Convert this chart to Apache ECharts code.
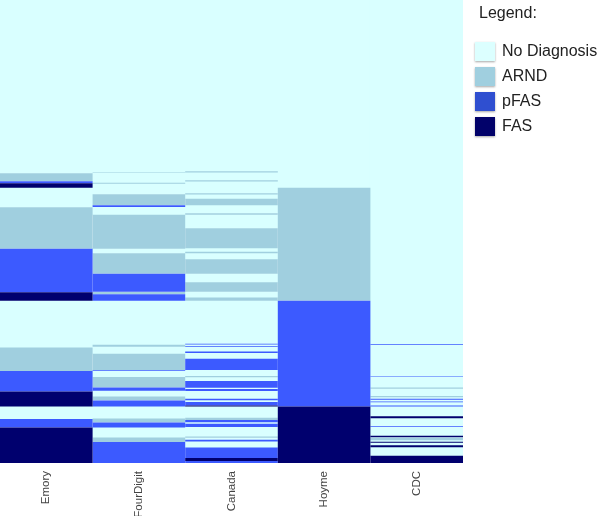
<!DOCTYPE html>
<html>
<head>
<meta charset="utf-8">
<style>html,body{margin:0;padding:0;background:#fff}#c{width:600px;height:516px}</style>
<script src="https://cdn.jsdelivr.net/npm/echarts@6/dist/echarts.min.js"></script>
</head>
<body>
<div id="c"></div>
<script>
const raters = ['Emory', 'FourDigit', 'Canada', 'Hoyme', 'CDC'];
const diagnoses = ['No Diagnosis', 'ARND', 'pFAS', 'FAS'];
const N = 0, A = 1, P = 2, F = 3;
// runs of patients, top to bottom: [first row, last row, diagnosis]
const emoryRuns = [[0,173,N],[173,181,A],[181,183,P],[183,187.5,F],[187.5,207,N],[207,248.5,A],[248.5,292,P],[292,300.5,F],[300.5,347,N],[347,370.5,A],[370.5,391,P],[391,406,F],[406,418.5,N],[418.5,427,P],[427,462.5,F]];
const fourDigitRuns = [[0,172,N],[172,172.6,A],[172.6,182.5,N],[182.5,183.5,A],[183.5,194,N],[194,205,A],[205,206.8,P],[206.8,214.5,N],[214.5,248.5,A],[248.5,253,N],[253,273.5,A],[273.5,291.5,P],[291.5,294,A],[294,300.5,P],[300.5,344.5,N],[344.5,346.3,A],[346.3,353.3,N],[353.3,369.5,A],[369.5,370.3,P],[370.3,376.5,N],[376.5,387,A],[387,390.3,P],[390.3,396,N],[396,400,A],[400,406,P],[406,418,N],[418,422,A],[422,427,P],[427,437,N],[437,441.5,A],[441.5,462.5,P]];
const canadaRuns = [[0,171,N],[171,172.2,A],[172.2,180,N],[180,181.2,A],[181.2,193,N],[193,194.2,A],[194.2,198.5,N],[198.5,205,A],[205,213,N],[213,214.5,A],[214.5,228,N],[228,248,A],[248,251.6,N],[251.6,253,A],[253,259,N],[259,273.5,A],[273.5,282,N],[282,291.5,A],[291.5,297.3,N],[297.3,300.5,A],[300.5,343.5,N],[343.5,344.2,P],[344.2,345.8,N],[345.8,346.6,P],[346.6,351,N],[351,352.6,P],[352.6,358.3,N],[358.3,369.5,P],[369.5,375.7,N],[375.7,376.8,A],[376.8,380.7,N],[380.7,387.3,P],[387.3,388.5,N],[388.5,390.7,P],[390.7,398.3,N],[398.3,399.8,P],[399.8,401.5,N],[401.5,405,P],[405,406,F],[406,417.3,N],[417.3,419.5,A],[419.5,421.8,P],[421.8,423.2,N],[423.2,426.6,P],[426.6,436,N],[436,437.3,A],[437.3,439.3,N],[439.3,441,P],[441,447,N],[447,457.5,P],[457.5,460.5,F],[460.5,462.5,P]];
const hoymeRuns = [[0,187.5,N],[187.5,300.5,A],[300.5,406,P],[406,462.5,F]];
const cdcRuns = [[0,343.6,N],[343.6,344.3,P],[344.3,376,N],[376,376.7,P],[376.7,387,N],[387,388.4,A],[388.4,395.5,N],[395.5,396.7,A],[396.7,398.4,N],[398.4,399.2,P],[399.2,401,N],[401,401.8,P],[401.8,405,N],[405,406,P],[406,415.8,N],[415.8,417.9,F],[417.9,425.8,N],[425.8,426.6,P],[426.6,435.2,N],[435.2,436.7,F],[436.7,437.6,N],[437.6,439.8,A],[439.8,441.2,N],[441.2,442.3,F],[442.3,444.7,N],[444.7,446.8,F],[446.8,455.3,N],[455.3,462.5,F]];
const allRuns = [emoryRuns, fourDigitRuns, canadaRuns, hoymeRuns, cdcRuns];
const rowCount = 462.5;
const cellColors = ['#d9ffff', '#a0cfdf', '#3c5aff', '#00006e'];
const legendColors = ['#dcffff', '#a0cfdf', '#2f4fd0', '#02026a'];

function renderRun(params, api) {
  const x = api.value(0), y0 = api.value(1), y1 = api.value(2);
  const isBase = params.seriesIndex === N;
  const grow = isBase ? 0.6 : 0;
  const a = api.coord([x, y0]), b = api.coord([x, y1]);
  const w = api.size([1, 0])[0];
  return {
    type: 'rect',
    shape: { x: a[0] - w / 2 - grow, y: a[1] - grow, width: w + 2 * grow, height: b[1] - a[1] + 2 * grow },
    style: { fill: cellColors[params.seriesIndex] }
  };
}

const series = diagnoses.map((name, d) => {
  const data = [];
  allRuns.forEach((runs, r) => runs.forEach(run => { if (run[2] === d) data.push([r, run[0], run[1]]); }));
  return {
    name, type: 'custom', renderItem: renderRun, data, z: 2 + d, silent: true, animation: false,
    clip: true, itemStyle: { color: legendColors[d] },
    encode: { x: 0, y: [1, 2] }
  };
});

const chart = echarts.init(document.getElementById('c'), null, { renderer: 'canvas' });
chart.setOption({
  animation: false,
  backgroundColor: '#fff',
  title: { text: 'Legend:', left: 479, top: 6, padding: 0, textStyle: { fontFamily: 'Liberation Sans', fontSize: 16, fontWeight: 'normal', color: '#222' } },
  legend: {
    orient: 'vertical', left: 475, top: 42, padding: 0, itemWidth: 20, itemHeight: 19, itemGap: 6, icon: 'rect',
    selectedMode: false,
    textStyle: { fontFamily: 'Liberation Sans', fontSize: 16, color: '#222', padding: [0, 0, 0, 2] },
    data: diagnoses.map((name, i) => ({
      name,
      itemStyle: { color: legendColors[i], shadowColor: 'rgba(0,0,0,0.35)', shadowBlur: 2, shadowOffsetY: 1 }
    }))
  },
  grid: { left: 0, top: 0, width: 463, height: 463, outerBoundsMode: 'none' },
  xAxis: {
    type: 'category', data: raters, position: 'bottom',
    axisLine: { show: false }, axisTick: { show: false },
    axisLabel: { rotate: 90, margin: 8, fontFamily: 'Liberation Sans', fontSize: 11.5, color: '#444', padding: [0, 0, 11, 0] }
  },
  yAxis: { type: 'value', inverse: true, min: 0, max: rowCount, show: false, splitLine: { show: false } },
  series
});
</script>
</body>
</html>
